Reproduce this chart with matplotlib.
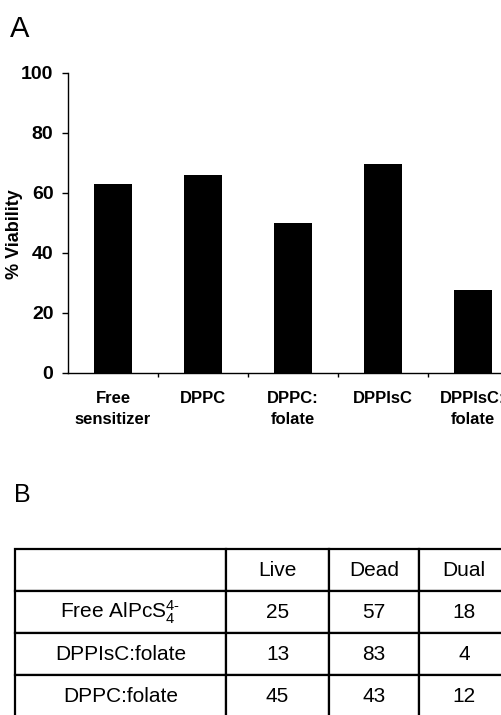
import matplotlib
matplotlib.use('Agg')
import matplotlib.pyplot as plt

# Panel A data
groups = ['Free\nsensitizer', 'DPPC', 'DPPC:\nfolate', 'DPPIsC', 'DPPIsC:\nfolate']
viability = [63, 66, 50, 69.5, 27.5]

# Panel B data
row_labels = ['Free AlPcS$_4^{4\\text{-}}$', 'DPPIsC:folate', 'DPPC:folate']
col_labels = ['', 'Live', 'Dead', 'Dual']
live = [25, 13, 45]
dead = [57, 83, 43]
dual = [18, 4, 12]

plt.rcParams['font.family'] = ['Liberation Sans', 'DejaVu Sans']
plt.rcParams['mathtext.fontset'] = 'custom'
plt.rcParams['mathtext.rm'] = 'Liberation Sans'
plt.rcParams['mathtext.it'] = 'Liberation Sans'
plt.rcParams['mathtext.bf'] = 'Liberation Sans:bold'

W, H = 501, 715
fig = plt.figure(figsize=(W / 100, H / 100), dpi=100, facecolor='white')

# ---- Panel A: bar chart ----
ax = fig.add_axes([68 / W, (H - 372.7) / H, 450 / W, 300 / H])
x = list(range(len(groups)))
ax.bar(x, viability, width=0.42, color='black')
ax.set_xlim(-0.5, len(groups) - 0.5)
ax.set_ylim(0, 100)
ax.set_yticks([0, 20, 40, 60, 80, 100])
ax.set_xticks(x)
ax.set_xticklabels(groups, fontsize=12, fontweight='bold', linespacing=1.55)
ax.set_xticks([i + 0.5 for i in x[:-1]], minor=True)
ax.tick_params(axis='x', which='major', length=0, pad=13)
ax.tick_params(axis='x', which='minor', length=3, width=1, direction='out')
ax.tick_params(axis='y', length=4.5, width=1, direction='out', pad=6, labelsize=14)
for lbl in ax.get_yticklabels():
    lbl.set_fontweight('bold')
for s in ['top', 'right']:
    ax.spines[s].set_visible(False)
for s in ['left', 'bottom']:
    ax.spines[s].set_linewidth(1.0)

fig.text(15 / W, 1 - 234 / H, '% Viability', rotation=90, ha='center', va='center',
         fontsize=13, fontweight='bold')
fig.text(10 / W, 1 - 15 / H, 'A', ha='left', va='top', fontsize=21)
fig.text(14 / W, 1 - 483 / H, 'B', ha='left', va='top', fontsize=18)

# ---- Panel B: table ----
tax = fig.add_axes([15 / W, (H - 717) / H, 494 / W, 168 / H])
tax.axis('off')
rows = [[row_labels[i], str(live[i]), str(dead[i]), str(dual[i])] for i in range(len(row_labels))]
cell_text = [col_labels] + rows
widths = [211, 103, 90, 90]
tot = sum(widths)
tbl = tax.table(cellText=cell_text, cellLoc='center', bbox=[0, 0, 1, 1],
                colWidths=[w / tot for w in widths])
tbl.auto_set_font_size(False)
tbl.set_fontsize(15)
for (r, c), cell in tbl.get_celld().items():
    cell.set_linewidth(1.6)
    cell.set_edgecolor('black')
    cell.set_facecolor('white')

fig.savefig('out.png', dpi=100)
